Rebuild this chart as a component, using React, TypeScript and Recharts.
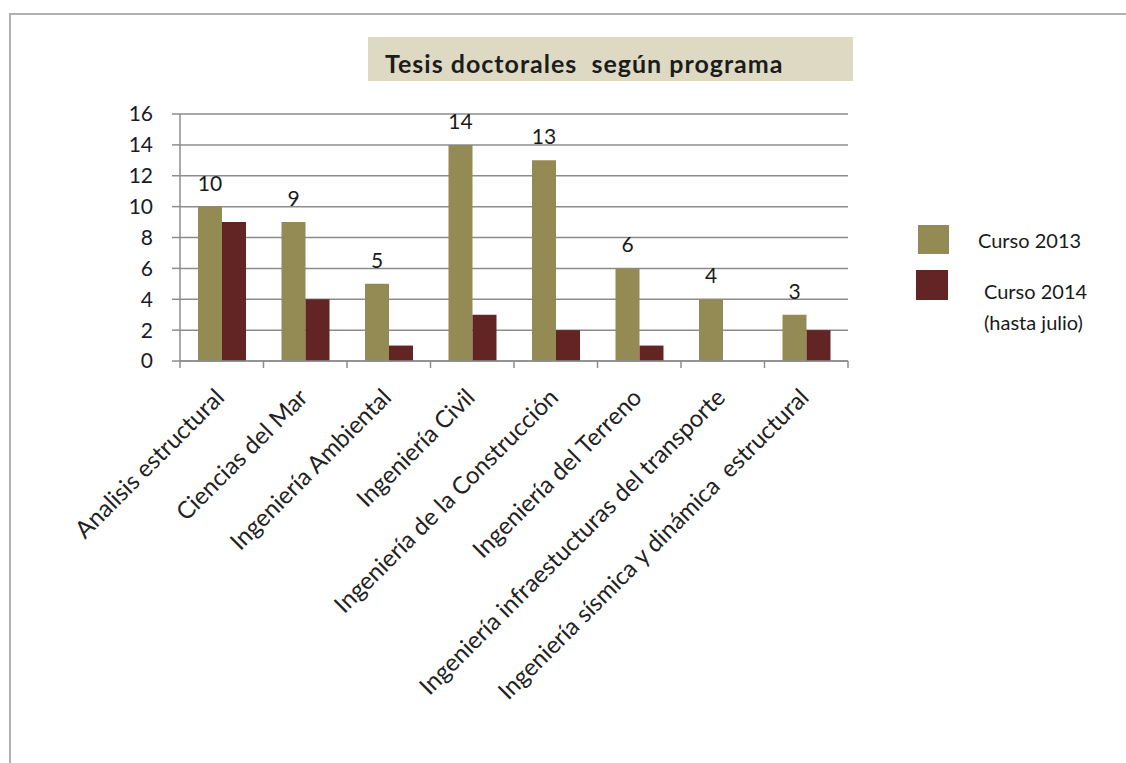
import React from "react";
import {
  BarChart,
  Bar,
  XAxis,
  YAxis,
  CartesianGrid,
  LabelList,
} from "recharts";

const programas = [
  "Analisis estructural",
  "Ciencias del Mar",
  "Ingeniería Ambiental",
  "Ingeniería Civil",
  "Ingeniería de la Construcción",
  "Ingeniería del Terreno",
  "Ingeniería infraestucturas del transporte",
  "Ingeniería sísmica y dinámica  estructural",
];

const curso2013 = [10, 9, 5, 14, 13, 6, 4, 3];
const curso2014 = [9, 4, 1, 3, 2, 1, null, 2];

const yTicks = [0, 2, 4, 6, 8, 10, 12, 14, 16];

const OLIVE = "#948A54";
const WINE = "#632523";
const GRID = "#8c8c8c";
const FONT = "Lato, 'Open Sans', sans-serif";

const data = programas.map((name, i) => ({
  name,
  c2013: curso2013[i],
  c2014: curso2014[i],
}));

const BAND = 668 / programas.length;

function CategoryTick(props: any) {
  const { x, payload, index } = props;
  const axisY = 361;
  const half = BAND / 2;
  const last = index === programas.length - 1;
  const tx = x + 4;
  const ty = axisY + 38;
  return (
    <g>
      <line x1={x - half} y1={axisY} x2={x - half} y2={axisY + 7} stroke={GRID} strokeWidth={1.5} />
      {last && (
        <line x1={x + half} y1={axisY} x2={x + half} y2={axisY + 7} stroke={GRID} strokeWidth={1.5} />
      )}
      <text
        x={tx}
        y={ty}
        textAnchor="end"
        transform={`rotate(-45, ${tx}, ${ty})`}
        fontSize={24}
        fontFamily={FONT}
        fill="#222"
        style={{ whiteSpace: "pre" }}
      >
        {payload.value}
      </text>
    </g>
  );
}

function LegendBox() {
  return (
    <div style={{ position: "absolute", left: 916, top: 225, width: 200, height: 120, fontFamily: FONT, fontSize: 20, color: "#1a1a1a" }}>
      <div style={{ position: "absolute", left: 2, top: 0, width: 31, height: 29, background: OLIVE }} />
      <div style={{ position: "absolute", left: 62, top: 3 }}>Curso 2013</div>
      <div style={{ position: "absolute", left: 0, top: 45, width: 32, height: 30, background: WINE }} />
      <div style={{ position: "absolute", left: 68, top: 51, lineHeight: "31px" }}>
        Curso 2014
        <br />
        (hasta julio)
      </div>
    </div>
  );
}

export default function App() {
  return (
    <div style={{ position: "relative", width: 1126, height: 763, background: "#fff" }}>
      <style>{`html, body { margin: 0; padding: 0; overflow: hidden; }`}</style>
      <div style={{ position: "absolute", left: 9, top: 13, width: 2, height: 750, background: "#b0b0b0" }} />
      <div style={{ position: "absolute", left: 9, top: 13, width: 1117, height: 2, background: "#b0b0b0" }} />
      <div
        style={{
          position: "absolute",
          left: 368,
          top: 37,
          width: 485,
          height: 44,
          background: "#DDD9C3",
          fontFamily: FONT,
          fontWeight: 700,
          fontSize: 25,
          letterSpacing: 1,
          color: "#1c1c1c",
          lineHeight: "52px",
          paddingLeft: 17,
          boxSizing: "border-box",
          whiteSpace: "pre",
        }}
      >
        {"Tesis doctorales  según programa"}
      </div>
      <div style={{ position: "absolute", left: 0, top: 0 }}>
        <BarChart
          width={1126}
          height={763}
          data={data}
          margin={{ top: 114, right: 278, bottom: 0, left: 0 }}
          barCategoryGap="21%"
          barGap={0}
        >
          <CartesianGrid horizontal vertical={false} stroke={GRID} strokeWidth={1.5} />
          <XAxis
            dataKey="name"
            height={402}
            interval={0}
            axisLine={{ stroke: GRID, strokeWidth: 1.5 }}
            tickLine={false}
            tick={<CategoryTick />}
          />
          <YAxis
            width={180}
            domain={[0, 16]}
            ticks={yTicks}
            interval={0}
            axisLine={{ stroke: GRID, strokeWidth: 1.5 }}
            tickLine={{ stroke: GRID, strokeWidth: 1.5 }}
            tickSize={8}
            tickMargin={19}
            tick={{ fontSize: 21, fontFamily: FONT, fill: "#1a1a2a" }}
          />
          <Bar dataKey="c2013" name="Curso 2013" fill={OLIVE} barSize={24} isAnimationActive={false}>
            <LabelList dataKey="c2013" position="top" offset={16} fontSize={21} fontFamily={FONT} fill="#1a1a1a" />
          </Bar>
          <Bar dataKey="c2014" name="Curso 2014 (hasta julio)" fill={WINE} barSize={24} isAnimationActive={false} />
        </BarChart>
      </div>
      <LegendBox />
    </div>
  );
}
